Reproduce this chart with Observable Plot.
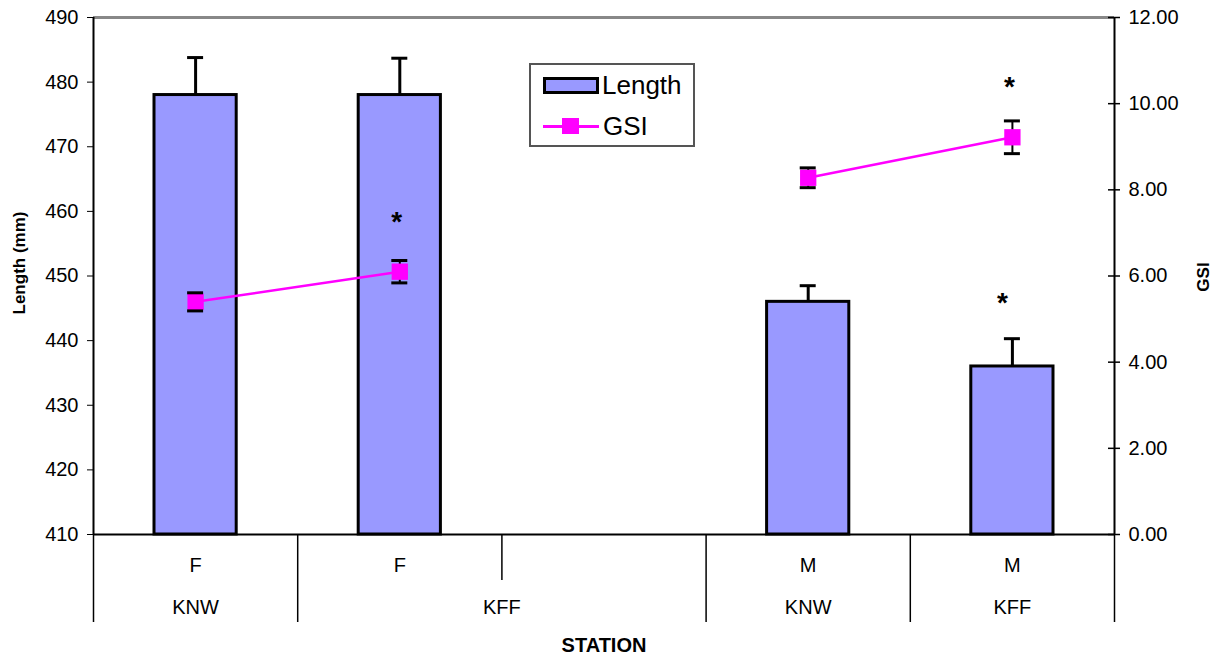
<!DOCTYPE html>
<html><head><meta charset="utf-8">
<script src="https://cdn.jsdelivr.net/npm/d3@7"></script>
<script src="https://cdn.jsdelivr.net/npm/@observablehq/plot@0.6"></script>
<style>
body{margin:0;background:#fff;font-family:"Liberation Sans",Arial,sans-serif;}
#wrap{position:relative;width:1220px;height:660px;}
#legend{position:absolute;left:529px;top:63px;width:166px;height:84px;border:2px solid #555;background:#fff;box-sizing:border-box;font-size:26px;color:#000;}
#legend .row{position:absolute;left:12px;display:flex;align-items:center;height:28px;white-space:nowrap;}
#legend .sw-bar{display:inline-block;width:56px;height:17px;background:#9999ff;border:3px solid #000;box-sizing:border-box;margin-right:3px;}
#legend .sw-line{position:relative;display:inline-block;width:56px;height:18px;margin-right:4px;}
#legend .sw-line::before{content:"";position:absolute;left:0;right:0;top:8px;height:3px;background:#ff00ff;}
#legend .sw-line::after{content:"";position:absolute;left:19px;top:1px;width:17px;height:16px;background:#ff00ff;}
</style></head><body>
<div id="wrap"><div id="chart"></div>
<div id="legend">
  <div class="row" style="top:6px"><span class="sw-bar"></span><span>Length</span></div>
  <div class="row" style="top:47px"><span class="sw-line"></span><span>GSI</span></div>
</div></div>
<script>
// ---- data ----
const slots = [0, 1, 2, 3, 4];
const sexLabels = ["F", "F", "", "M", "M"];
const stationLabels = ["KNW", "KFF", "KNW", "KFF"];
const stationStart = [0, 1, 3, 4];
const stationEnd = [1, 3, 4, 5];
const lengthMean = [478, 478, null, 446, 436];
const lengthSE = [5.8, 5.7, null, 2.5, 4.3];
const gsiMean = [5.4, 6.1, null, 8.28, 9.22];
const gsiSE = [0.21, 0.26, null, 0.23, 0.38];
const lengthSig = [false, false, false, false, true];
const gsiSig = [false, true, false, false, true];
const lengthTicks = [410, 420, 430, 440, 450, 460, 470, 480, 490];
const gsiTicks = [0, 2, 4, 6, 8, 10, 12];

// ---- derived ----
const yMin = lengthTicks[0], yMax = lengthTicks[lengthTicks.length - 1];
const gMax = gsiTicks[gsiTicks.length - 1];
const gsiToY = g => yMin + g * (yMax - yMin) / gMax;
const yToGsi = y => (y - yMin) * gMax / (yMax - yMin);
const rows = slots.map((s, i) => ({
  slot: s, sex: sexLabels[i], len: lengthMean[i], lenSE: lengthSE[i],
  gsi: gsiMean[i], gsiSE: gsiSE[i], lenSig: lengthSig[i], gsiSig: gsiSig[i]
}));
const bars = rows.filter(d => d.len != null);
const pts = rows.filter(d => d.gsi != null);
const stations = stationLabels.map((l, i) => ({label: l, mid: (stationStart[i] + stationEnd[i]) / 2}));
const fullSep = Array.from(new Set([...stationStart, ...stationEnd])).sort((a, b) => a - b);
const allBounds = [...slots, slots.length];
const shortSep = allBounds.filter(b => !fullSep.includes(b));
const cx = d => d.slot + 0.5;

const W = 1220, H = 660, mT = 17, mB = 126;
const frameH = H - mT - mB;

const chart = Plot.plot({
  width: W, height: H,
  marginLeft: 93, marginRight: 106, marginTop: mT, marginBottom: mB,
  style: {fontFamily: "'Liberation Sans', Arial, sans-serif", fontSize: "20px", color: "#000", background: "#fff"},
  x: {domain: [0, slots.length], axis: null},
  y: {domain: [yMin, yMax], axis: null},
  marks: [
    // top frame line
    Plot.ruleY([yMax], {stroke: "#888", strokeWidth: 3}),
    // bars
    Plot.rect(bars, {x1: d => d.slot, x2: d => d.slot + 1, y1: yMin, y2: "len",
      insetLeft: 61, insetRight: 61, fill: "#9999ff", stroke: "#000", strokeWidth: 3}),
    // bar error bars (upper only)
    Plot.ruleX(bars, {x: cx, y1: "len", y2: d => d.len + d.lenSE, stroke: "#000", strokeWidth: 3}),
    Plot.ruleY(bars, {x1: cx, x2: cx, y: d => d.len + d.lenSE, insetLeft: -8, insetRight: -8, stroke: "#000", strokeWidth: 3}),
    // axis lines
    Plot.ruleY([yMin], {stroke: "#000", strokeWidth: 2}),
    Plot.ruleX([0, slots.length], {stroke: "#000", strokeWidth: 2}),
    // separators of the category axis (below the frame)
    Plot.ruleX(fullSep, {insetTop: frameH, insetBottom: -88, stroke: "#000", strokeWidth: 1.5}),
    Plot.ruleX(shortSep, {insetTop: frameH, insetBottom: -46, stroke: "#000", strokeWidth: 1.5}),
    // GSI line
    Plot.line(rows, {x: cx, y: d => d.gsi == null ? NaN : gsiToY(d.gsi), stroke: "#ff00ff", strokeWidth: 2.5}),
    Plot.ruleX(pts, {x: cx, y1: d => gsiToY(d.gsi - d.gsiSE), y2: d => gsiToY(d.gsi + d.gsiSE), stroke: "#000", strokeWidth: 2}),
    Plot.dot(pts, {x: cx, y: d => gsiToY(d.gsi), symbol: "square", r: 9.2, fill: "#ff00ff", stroke: "none"}),
    Plot.ruleY(pts, {x1: cx, x2: cx, y: d => gsiToY(d.gsi + d.gsiSE), insetLeft: -8, insetRight: -8, stroke: "#000", strokeWidth: 3}),
    Plot.ruleY(pts, {x1: cx, x2: cx, y: d => gsiToY(d.gsi - d.gsiSE), insetLeft: -8, insetRight: -8, stroke: "#000", strokeWidth: 3}),
    // significance asterisks
    Plot.text(rows.filter(d => d.lenSig), {x: cx, y: d => d.len + d.lenSE, text: () => "*", dy: -36, dx: -10, fontSize: 28, fontWeight: "bold"}),
    Plot.text(rows.filter(d => d.gsiSig), {x: cx, y: d => gsiToY(d.gsi), text: () => "*", dy: -50, dx: -3, fontSize: 28, fontWeight: "bold"}),
    // left axis
    Plot.axisY({anchor: "left", ticks: lengthTicks, tickSize: 6, tickPadding: 9, label: null, fontSize: 20, stroke: "#000"}),
    // right axis
    Plot.ruleY(gsiTicks.map(gsiToY), {x1: slots.length, x2: slots.length, insetLeft: -6, insetRight: -6, stroke: "#000", strokeWidth: 1.5}),
    Plot.axisY({anchor: "right", ticks: gsiTicks.map(gsiToY), tickFormat: d => yToGsi(d).toFixed(2), tickSize: 0, tickPadding: 14, label: null, fontSize: 20}),
    // category labels
    Plot.text(rows, {x: cx, frameAnchor: "bottom", lineAnchor: "middle", textAnchor: "middle", text: "sex", dy: 31, fontSize: 20}),
    Plot.text(stations, {x: "mid", frameAnchor: "bottom", lineAnchor: "middle", textAnchor: "middle", text: "label", dy: 73, fontSize: 20}),
    // axis titles
    Plot.text(["STATION"], {frameAnchor: "bottom", lineAnchor: "middle", textAnchor: "middle", dy: 111, fontSize: 20, fontWeight: "bold"}),
    Plot.text(["Length (mm)"], {frameAnchor: "left", lineAnchor: "middle", textAnchor: "middle", dx: -74, dy: -13, rotate: -90, fontSize: 17, fontWeight: "bold"}),
    Plot.text(["GSI"], {frameAnchor: "right", lineAnchor: "middle", textAnchor: "middle", dx: 89, dy: 1, rotate: -90, fontSize: 17, fontWeight: "bold"})
  ]
});
document.getElementById("chart").appendChild(chart);
</script>
</body></html>
